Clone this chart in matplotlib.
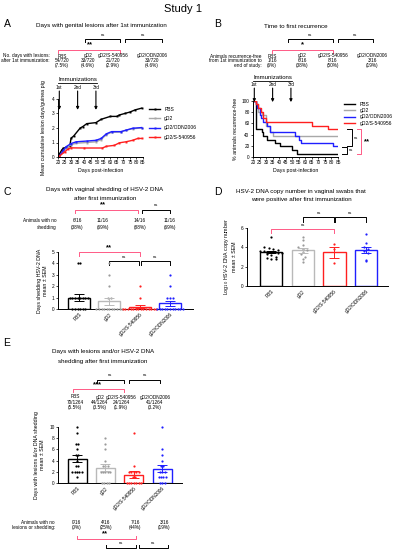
import numpy as np
import matplotlib.pyplot as plt
from matplotlib.lines import Line2D
from matplotlib import transforms

plt.rcParams['font.family'] = ['Liberation Sans', 'DejaVu Sans']

# ---------------- data ----------------
groups = ['PBS', 'gD2', 'gD2/S-540956', 'gD2/ODN2006']
colors = ['black', '#b9b9b9', '#ff1f1f', '#1f1fff']
dot_colors = ['black', '#9a9a9a', '#ff1f1f', '#1f1fff']
pink = '#ff5a86'

# A: mean cumulative lesion days
a_pbs_days = [20, 21, 23, 24, 29, 30, 32, 37, 39, 42, 49, 53, 60, 65, 67, 71, 75, 79, 84]
a_pbs_vals = [0, 0.2, 0.5, 0.6, 0.75, 1.3, 1.45, 2.0, 2.1, 2.3, 2.37, 2.6, 2.8, 2.8, 2.9, 3.0, 3.1, 3.25, 3.37]
a_gd2_days = [20, 21, 24, 26, 30, 34, 42, 49, 53, 57, 61, 68, 72, 77, 84]
a_gd2_vals = [0, 0.05, 0.35, 0.6, 0.85, 0.95, 1.0, 1.05, 1.2, 1.55, 1.7, 1.72, 1.85, 1.95, 2.0]
a_odn_days = [20, 21, 24, 26, 30, 34, 42, 49, 53, 57, 61, 68, 72, 77, 84]
a_odn_vals = [0, 0.05, 0.45, 0.7, 0.93, 1.05, 1.1, 1.15, 1.28, 1.6, 1.75, 1.75, 1.85, 1.98, 2.03]
a_s_days = [20, 21, 25, 28, 30, 40, 54, 57, 63, 67, 72, 77, 81, 84]
a_s_vals = [0, 0.05, 0.35, 0.58, 0.63, 0.62, 0.62, 0.74, 0.8, 0.98, 1.05, 1.15, 1.28, 1.28]
a_counts = ['54/720', '33/720', '21/720', '33/720']
a_pcts = ['(7.5%)', '(4.6%)', '(2.9%)', '(4.6%)']
immun_days = [21, 35, 49]
immun_labels = ['1st', '2nd', '3rd']

# B: % recurrence-free
b_pbs_days = [20, 22, 27, 28, 31, 37, 41, 50, 54, 85]
b_pbs_vals = [100, 50, 44, 37.5, 31, 25, 19, 12.5, 6.25, 6.25]
b_gd2_days = [20, 22, 24, 27, 30, 33, 35, 85]
b_gd2_vals = [100, 94, 81, 75, 56, 44, 37.5, 37.5]
b_odn_days = [20, 22, 23, 25, 26, 28, 31, 33, 52, 55, 57, 81, 85]
b_odn_vals = [100, 94, 88, 75, 69, 62.5, 56, 44, 37.5, 31, 25, 19, 19]
b_s_days = [20, 22, 24, 26, 28, 30, 65, 77, 85]
b_s_vals = [100, 94, 88, 81, 69, 62.5, 56, 50, 50]
b_counts = ['1/16', '6/16', '8/16', '3/16']
b_pcts = ['(6%)', '(38%)', '(50%)', '(19%)']

# C: days shedding per animal
c_pbs = [4, 4, 1, 1, 1, 1, 1, 1, 1, 1, 0, 0, 0, 0, 0, 0]
c_gd2 = [4, 3, 2, 1, 1, 0, 0, 0, 0, 0, 0, 0, 0, 0, 0, 0]
c_s = [2, 1, 0, 0, 0, 0, 0, 0, 0, 0, 0, 0, 0, 0, 0, 0]
c_odn = [3, 2, 1, 1, 1, 0, 0, 0, 0, 0, 0, 0, 0, 0, 0, 0]
c_counts = ['6/16', '11/16', '14/16', '11/16']
c_pcts = ['(38%)', '(69%)', '(88%)', '(69%)']

# D: log10 copy number of positive swabs
d_pbs = [5.1, 4.0, 3.9, 3.8, 3.7, 3.6, 3.6, 3.5, 3.5, 3.4, 3.4, 3.3, 3.2, 3.0, 2.9, 2.8, 2.8]
d_gd2 = [5.1, 4.8, 4.2, 4.0, 3.8, 3.7, 3.5, 3.3, 3.0, 2.8, 2.5]
d_s = [4.3, 3.8, 2.4]
d_odn = [5.4, 4.5, 4.0, 3.8, 3.6, 3.4, 2.7, 2.6]

# E: days with lesions and/or shedding
e_pbs = [10, 9, 7, 7, 6, 5, 5, 4, 3, 3, 2, 2, 2, 2, 2, 1]
e_gd2 = [8, 7, 6, 4, 3, 3, 3, 2, 2, 2, 2, 2, 0, 0, 0, 0]
e_s = [9, 3, 2, 2, 2, 2, 2, 1, 1, 0, 0, 0, 0, 0, 0, 0]
e_odn = [10, 6, 5, 4, 3, 3, 2, 2, 2, 1, 1, 1, 1, 0, 0, 0]
e_counts = ['70/1264', '44/1264', '24/1264', '41/1264']
e_pcts = ['(5.5%)', '(3.5%)', '(1.9%)', '(3.2%)']
e_none = ['0/16', '4/16', '7/16', '3/16']
e_none_pct = ['(0%)', '(25%)', '(44%)', '(19%)']

# ---------------- layout helpers ----------------
W, H = 395, 550
fig = plt.figure(figsize=(W / 100, H / 100), dpi=100)
FS = 3.4
TS = 4.5   # panel titles
LS = 7.5   # panel letters
NS = 3.0   # "ns"


def fx(px):
    return px / W


def fy(py):
    return 1 - py / H


def txt(px, py, s, size=FS, **kw):
    kw.setdefault('ha', 'center')
    kw.setdefault('va', 'center')
    fig.text(fx(px), fy(py), s, fontsize=size, **kw)


def fbracket(x0, x1, y, leg, color, lw=0.7):
    fig.add_artist(Line2D([fx(x0), fx(x0), fx(x1), fx(x1)],
                          [fy(y + leg), fy(y), fy(y), fy(y + leg)],
                          color=color, lw=lw))


def dbracket(ax, x0, x1, y, leg, color, lw=0.7):
    ax.plot([x0, x0, x1, x1], [y - leg, y, y, y - leg], color=color, lw=lw,
            clip_on=False)


def style(ax):
    for s in ['top', 'right']:
        ax.spines[s].set_visible(False)
    for s in ['left', 'bottom']:
        ax.spines[s].set_linewidth(0.7)
    ax.tick_params(labelsize=FS, length=1.5, width=0.5, pad=1)


def swarm(vals, binw, step):
    vals = np.asarray(vals, float)
    keys = np.round(vals / binw)
    offs = np.zeros(len(vals))
    for k in np.unique(keys):
        idx = np.where(keys == k)[0]
        offs[idx] = (np.arange(len(idx)) - (len(idx) - 1) / 2) * step
    return offs


def barplot(ax, data, binw, step, width):
    for i, vals in enumerate(data):
        vals = np.asarray(vals, float)
        m = vals.mean()
        sem = vals.std(ddof=1) / np.sqrt(len(vals))
        ax.bar(i, m, width=width, facecolor='white', edgecolor=colors[i],
               lw=1.0, zorder=1)
        ax.plot(i + swarm(vals, binw, step), vals, 'o', ms=1.6, mew=0,
                color=dot_colors[i], zorder=3, clip_on=False)
        ax.errorbar(i, m, yerr=sem, color=colors[i], capsize=3.8, lw=0.7,
                    capthick=0.7, zorder=4)
    ax.set_xticks(range(4))
    ax.set_xticklabels(groups, rotation=45, ha='right', rotation_mode='anchor')
    ax.tick_params(axis='x', length=0, pad=2)


# ---------------- header ----------------
txt(183, 9, 'Study 1', size=8)

# ================= Panel A =================
txt(7, 24, 'A', size=LS)
txt(101, 26, 'Days with genital lesions after 1st immunization', size=TS)
fbracket(85, 120, 39, 3, 'black')
txt(103, 35, 'ns', size=NS)
fbracket(125, 162, 39, 3, 'black')
txt(143, 35, 'ns', size=NS)
txt(90, 45, '**', size=5.5, fontweight='bold')
fbracket(58, 120, 50, 3, pink)
txt(50, 56, 'No. days with lesions:', ha='right')
txt(50, 61, 'after 1st immunization:', ha='right')
for x, g, c, p in zip([62, 88, 113, 152], groups, a_counts, a_pcts):
    txt(x, 56, g)
    txt(x, 61, c)
    txt(x, 66, p)

axA = fig.add_axes([fx(58), fy(157), fx(143) - fx(58), fy(99) - fy(157)])
style(axA)
for d, v, c, lab in [(a_pbs_days, a_pbs_vals, colors[0], 'PBS'),
                     (a_gd2_days, a_gd2_vals, '#a8a8a8', 'gD2'),
                     (a_odn_days, a_odn_vals, colors[3], 'gD2/ODN2006'),
                     (a_s_days, a_s_vals, colors[2], 'gD2/S-540956')]:
    axA.plot(d, v, '-s', color=c, lw=1.0, ms=1.4, mew=0, label=lab)
axA.set_xlim(20, 85)
axA.set_ylim(0, 4)
axA.set_xticks(range(20, 86, 5))
axA.set_yticks(range(0, 5))
axA.set_xlabel('Days post-infection', fontsize=3.8, labelpad=2)
axA.set_ylabel('Mean cumulative lesion days/guinea pig', fontsize=3.8, labelpad=4)
for d, l in zip(immun_days, immun_labels):
    axA.annotate('', xy=(d, 3.25), xytext=(d, 4.55), annotation_clip=False,
                 arrowprops=dict(arrowstyle='-|>', lw=0.8, color='black',
                                 mutation_scale=4, shrinkA=0, shrinkB=0))
    axA.text(d, 4.8, l, fontsize=FS, ha='center', va='center', clip_on=False)
axA.text(np.mean(immun_days[::2]), 5.35, 'Immunizations', fontsize=4.3,
         ha='center', va='center')
axA.plot([immun_days[0] - 1, immun_days[-1] + 1], [5.08, 5.08], color='black',
         lw=0.6, clip_on=False)
axA.legend(loc='upper left', bbox_to_anchor=(1.05, 0.9), fontsize=3.6,
           frameon=False, handlelength=2.2, handletextpad=0.8,
           labelspacing=0.85, borderaxespad=0)

# ================= Panel B =================
txt(218, 24, 'B', size=LS)
txt(296, 27, 'Time to first recurrence', size=TS)
fbracket(288, 333, 39, 3, 'black')
txt(310, 35, 'ns', size=NS)
fbracket(338, 373, 39, 3, 'black')
txt(355, 35, 'ns', size=NS)
txt(302, 45, '*', size=5.5, fontweight='bold')
fbracket(272, 333, 50, 3, pink)
txt(262, 56, 'Animals recurrence-free', ha='right')
txt(262, 61, 'from 1st immunization to', ha='right')
txt(262, 66, 'end of study:', ha='right')
for x, g, c, p in zip([272, 302, 333, 372], groups, b_counts, b_pcts):
    txt(x, 56, g)
    txt(x, 61, c)
    txt(x, 66, p)

axB = fig.add_axes([fx(253), fy(157), fx(338) - fx(253), fy(101) - fy(157)])
style(axB)
for d, v, c, lab in [(b_pbs_days, b_pbs_vals, colors[0], 'PBS'),
                     (b_gd2_days, b_gd2_vals, '#a8a8a8', 'gD2'),
                     (b_odn_days, b_odn_vals, colors[3], 'gD2/ODN2006'),
                     (b_s_days, b_s_vals, colors[2], 'gD2/S-540956')]:
    axB.plot(d, v, color=c, lw=1.0, drawstyle='steps-post', label=lab)
axB.set_xlim(20, 85)
axB.set_ylim(0, 100)
axB.set_xticks(range(20, 86, 5))
axB.set_yticks(range(0, 101, 20))
axB.set_xlabel('Days post-infection', fontsize=3.8, labelpad=2)
axB.set_ylabel('% animals recurrence-free', fontsize=3.8, labelpad=3)
for d, l in zip(immun_days, immun_labels):
    axB.annotate('', xy=(d, 98), xytext=(d, 123), annotation_clip=False,
                 arrowprops=dict(arrowstyle='-|>', lw=0.8, color='black',
                                 mutation_scale=4, shrinkA=0, shrinkB=0))
    axB.text(d, 129, l, fontsize=FS, ha='center', va='center', clip_on=False)
axB.text(np.mean(immun_days[::2]), 142, 'Immunizations', fontsize=4.3,
         ha='center', va='center')
axB.plot([immun_days[0] - 1, immun_days[-1] + 1], [136, 136], color='black',
         lw=0.6, clip_on=False)
axB.legend(loc='upper left', bbox_to_anchor=(1.05, 1.02), fontsize=3.6,
           frameon=False, handlelength=2.2, handletextpad=0.8,
           labelspacing=0.25, borderaxespad=0)
tB = transforms.blended_transform_factory(fig.transFigure, axB.transData)
end_s, end_odn, end_pbs = b_s_vals[-1], b_odn_vals[-1], b_pbs_vals[-1]
for (x0, x1, ya, yb, c) in [(fx(347), fx(352), end_s, end_odn, 'black'),
                            (fx(342), fx(347), end_odn - 2, end_pbs, 'black'),
                            (fx(357), fx(361), end_s, end_pbs, pink)]:
    axB.add_line(Line2D([x0, x1, x1, x0], [ya, ya, yb, yb], color=c, lw=0.7,
                        transform=tB, clip_on=False))
axB.text(fx(356), (end_s + end_odn) / 2, 'ns', fontsize=NS, transform=tB,
         va='center', ha='center')
axB.text(fx(351), (end_odn + end_pbs) / 2, 'ns', fontsize=NS, transform=tB,
         va='center', ha='center')
axB.text(fx(367), (end_s + end_pbs) / 2, '**', fontsize=5.5, transform=tB,
         va='center', ha='center', fontweight='bold')

# ================= Panel C =================
txt(7, 192, 'C', size=LS)
txt(105, 189, 'Days with vaginal shedding of HSV-2 DNA', size=TS)
txt(105, 198, 'after first immunization', size=TS)
fbracket(75, 138, 210, 3, pink)
txt(103, 205, '**', size=5.5, fontweight='bold')
fbracket(142, 170, 210, 3, 'black')
txt(156, 205, 'ns', size=NS)
txt(57, 221, 'Animals with no', ha='right')
txt(57, 227, 'shedding', ha='right')
for x, c, p in zip([77, 103, 140, 170], c_counts, c_pcts):
    txt(x, 221, c)
    txt(x, 227, p)

axC = fig.add_axes([fx(58), fy(309), fx(193) - fx(58), fy(252) - fy(309)])
style(axC)
barplot(axC, [c_pbs, c_gd2, c_s, c_odn], 1, 0.085, 0.73)
axC.set_xlim(-0.69, 3.76)
axC.set_ylim(0, 5)
axC.set_yticks(range(0, 6))
axC.set_ylabel('Days shedding HSV-2 DNA\nmean ± SEM', fontsize=3.8, labelpad=3)
dbracket(axC, 0, 2, 5.0, 0.35, pink)
axC.text(1, 5.35, '**', fontsize=5.5, ha='center', va='center', fontweight='bold')
dbracket(axC, 1, 1.97, 4.2, 0.35, 'black')
axC.text(1.5, 4.6, 'ns', fontsize=NS, ha='center', va='center')
dbracket(axC, 2.03, 3, 4.2, 0.35, 'black')
axC.text(2.5, 4.6, 'ns', fontsize=NS, ha='center', va='center')

# ================= Panel D =================
txt(218, 192, 'D', size=LS)
txt(301, 191, 'HSV-2 DNA copy number in vaginal swabs that', size=TS)
txt(301, 200, 'were positive after first immunization', size=TS)

axD = fig.add_axes([fx(247), fy(286), fx(388) - fx(247), fy(228) - fy(286)])
style(axD)
barplot(axD, [d_pbs, d_gd2, d_s, d_odn], 0.35, 0.14, 0.7)
axD.set_xlim(-0.76, 3.69)
axD.set_ylim(0, 6)
axD.set_yticks(range(0, 7, 2))
axD.set_ylabel('Log$_{10}$ HSV-2 DNA copy number\nmean ± SEM', fontsize=3.8,
               labelpad=3)
dbracket(axD, 0, 2, 5.9, 0.4, pink)
axD.text(1, 6.35, 'ns', fontsize=NS, ha='center', va='center')
dbracket(axD, 1, 1.97, 7.1, 0.5, 'black')
axD.text(1.5, 7.55, 'ns', fontsize=NS, ha='center', va='center')
dbracket(axD, 2.03, 3, 7.1, 0.5, 'black')
axD.text(2.5, 7.55, 'ns', fontsize=NS, ha='center', va='center')

# ================= Panel E =================
txt(7, 343, 'E', size=LS)
txt(103, 352, 'Days with lesions and/or HSV-2 DNA', size=TS)
txt(103, 361, 'shedding after first immunization', size=TS)
fbracket(97, 124, 380, 3, 'black')
txt(110, 375, 'ns', size=NS)
fbracket(129, 160, 380, 3, 'black')
txt(145, 375, 'ns', size=NS)
txt(97, 385, '***', size=5.5, fontweight='bold')
fbracket(73, 124, 389, 3, pink)
for x, g, c, p in zip([75, 100, 121, 155], groups, e_counts, e_pcts):
    txt(x, 397, g)
    txt(x, 402, c)
    txt(x, 407, p)

axE = fig.add_axes([fx(58), fy(483), fx(182) - fx(58), fy(427) - fy(483)])
style(axE)
barplot(axE, [e_pbs, e_gd2, e_s, e_odn], 1, 0.085, 0.67)
axE.set_xlim(-0.67, 3.7)
axE.set_ylim(0, 10)
axE.set_yticks(range(0, 11, 2))
axE.set_ylabel('Days with lesions &/or DNA shedding\nmean ± SEM', fontsize=3.8,
               labelpad=3)

txt(55, 522, 'Animals with no', ha='right')
txt(55, 527, 'lesions or shedding:', ha='right')
for x, c, p in zip([77, 106, 135, 164], e_none, e_none_pct):
    txt(x, 522, c)
    txt(x, 527, p)
fbracket(77, 136, 539, -3, pink)
txt(105, 534, '**', size=5.5, fontweight='bold')
fbracket(106, 136, 548, -3, 'black')
txt(121, 543, 'ns', size=NS)
fbracket(139, 168, 548, -3, 'black')
txt(153, 543, 'ns', size=NS)

fig.savefig('out.png', dpi=100)
